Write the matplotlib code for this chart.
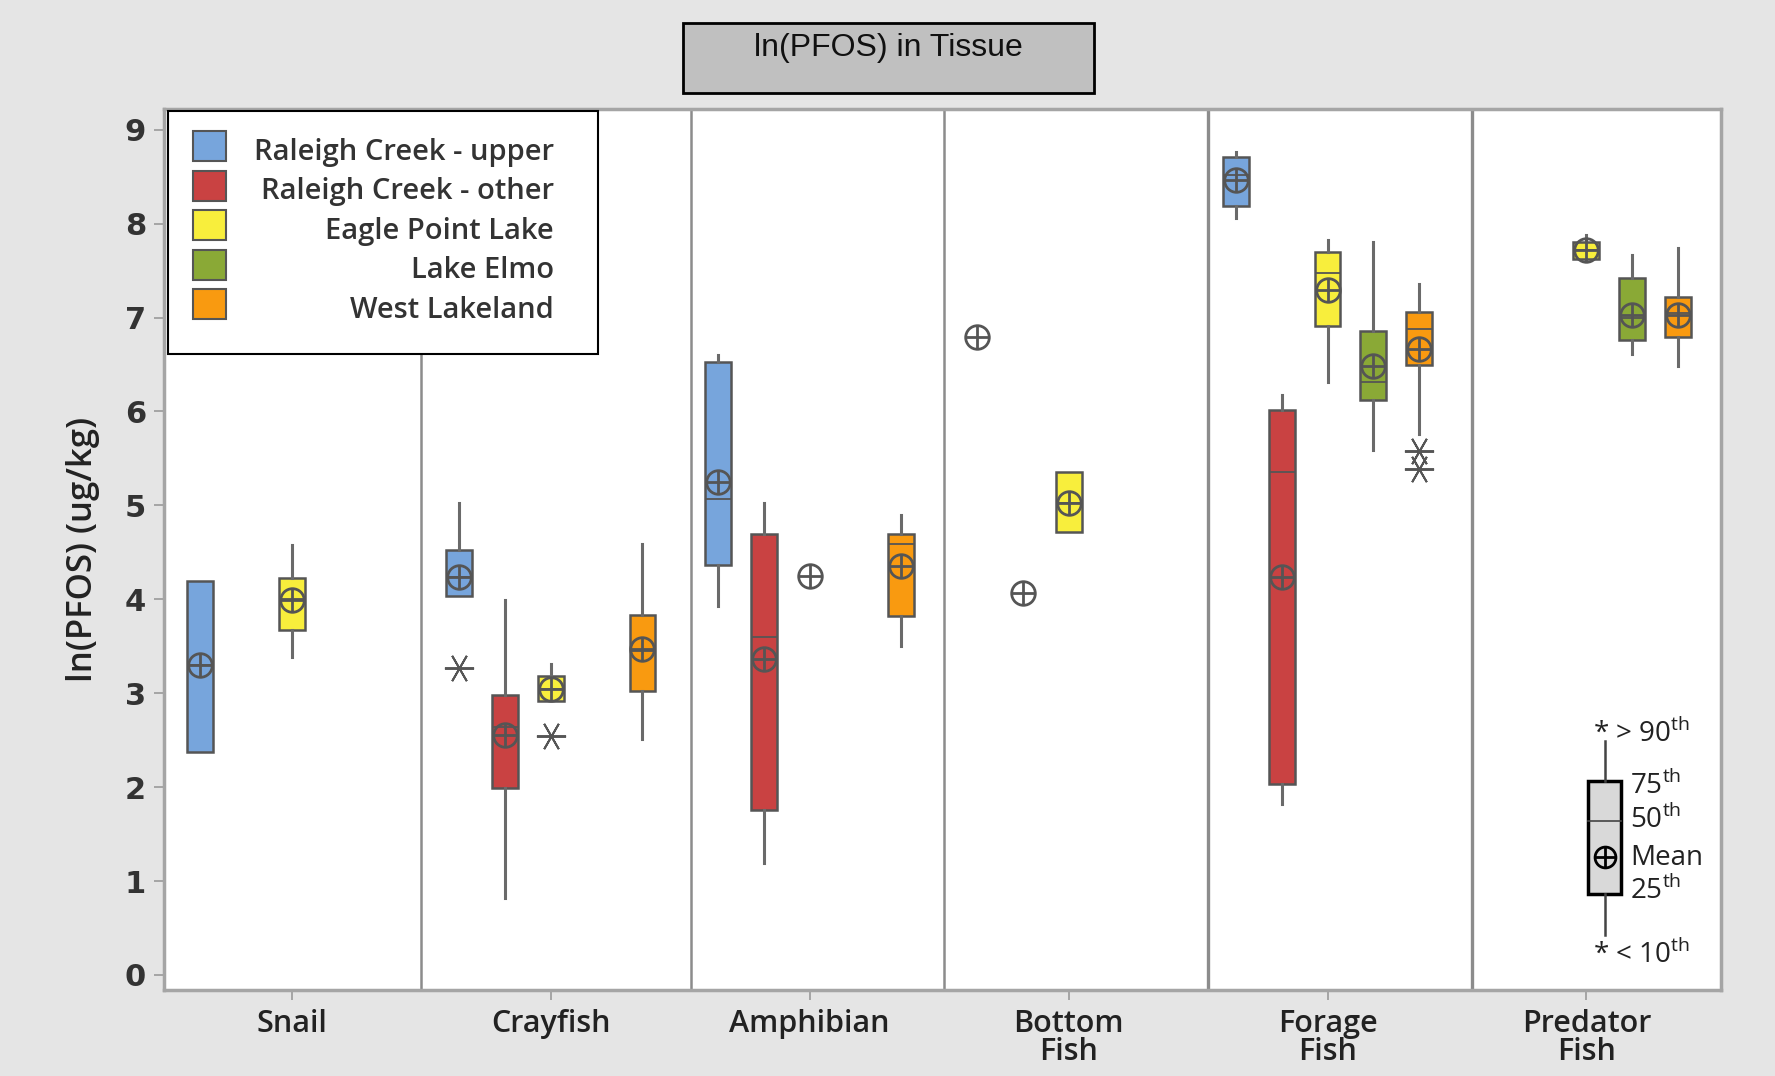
import numpy as np
import matplotlib.pyplot as plt
from matplotlib.patches import Rectangle

plt.rcParams['font.family'] = ['Open Sans', 'DejaVu Sans']
plt.rcParams['mathtext.fontset'] = 'custom'
plt.rcParams['mathtext.rm'] = 'Open Sans'

categories = ['Snail', 'Crayfish', 'Amphibian', 'Bottom\nFish', 'Forage\nFish', 'Predator\nFish']
sites = ['Raleigh Creek - upper', 'Raleigh Creek - other', 'Eagle Point Lake', 'Lake Elmo', 'West Lakeland']
colors = ['#77a5dc', '#c94242', '#f8ee3c', '#8aa936', '#f99a10']

N = None
# rows = sites, columns = categories
whislo = [[2.37, 4.04, 3.93, N, 8.06, N],
          [N, 0.82, 1.19, N, 1.82, N],
          [3.39, 2.92, N, 4.72, 6.31, 7.60],
          [N, N, N, N, 5.59, 6.61],
          [N, 2.51, 3.50, N, 5.76, 6.48]]
q1 = [[2.37, 4.04, 4.36, N, 8.19, N],
      [N, 1.99, 1.76, N, 2.03, N],
      [3.67, 2.92, N, 4.72, 6.91, 7.62],
      [N, N, N, N, 6.12, 6.76],
      [N, 3.02, 3.82, N, 6.49, 6.79]]
med = [[3.30, 4.24, 5.07, N, 8.52, N],
       [N, 2.64, 3.60, N, 5.36, N],
       [4.00, 3.05, N, 5.02, 7.47, 7.72],
       [N, N, N, N, 6.31, 7.00],
       [N, 3.45, 4.59, N, 6.88, 7.05]]
q3 = [[4.19, 4.52, 6.53, N, 8.71, N],
      [N, 2.98, 4.70, N, 6.02, N],
      [4.23, 3.18, N, 5.35, 7.70, 7.80],
      [N, N, N, N, 6.86, 7.42],
      [N, 3.83, 4.69, N, 7.06, 7.22]]
whishi = [[4.19, 5.03, 6.60, N, 8.76, N],
          [N, 3.99, 5.03, N, 6.17, N],
          [4.58, 3.31, N, 5.35, 7.83, 7.88],
          [N, N, N, N, 7.80, 7.67],
          [N, 4.59, 4.90, N, 7.36, 7.74]]
means = [[3.30, 4.24, 5.25, 6.79, 8.46, N],
         [N, 2.56, 3.36, 4.07, 4.24, N],
         [3.99, 3.05, 4.25, 5.02, 7.29, 7.72],
         [N, N, N, N, 6.48, 7.03],
         [N, 3.47, 4.35, N, 6.67, 7.03]]
# (site, category): outlier values
outliers = {(0, 1): [3.27], (2, 1): [2.54], (4, 4): [5.58, 5.39]}

dividers = [0.5, 1.54, 2.52, 3.54, 4.56]
step = 0.177
edge = '#555555'

fig = plt.figure(figsize=(17.75, 10.76), dpi=100, facecolor='#e5e5e5')
ax = fig.add_axes([0.0924, 0.0799, 0.8772, 0.8188])
ax.set_facecolor('white')

for k, d in enumerate(dividers):
    # forage panel is framed a bit heavier
    ax.axvline(d, color='#8c8c8c', lw=2.4 if k >= 3 else 1.8, zorder=1)

for i in range(len(sites)):
    for c in range(len(categories)):
        x = c + (i - 2) * step
        if q1[i][c] is not None:
            st = dict(whislo=whislo[i][c], q1=q1[i][c], med=med[i][c], q3=q3[i][c],
                      whishi=whishi[i][c], fliers=outliers.get((i, c), []))
            ax.bxp([st], positions=[x], widths=0.1, patch_artist=True, showcaps=False,
                   manage_ticks=False,
                   boxprops=dict(facecolor=colors[i], edgecolor=edge, lw=1.8),
                   medianprops=dict(color=edge, lw=1.3),
                   whiskerprops=dict(color='#6a6a6a', lw=2.2),
                   flierprops=dict(marker=(6, 2, 30), ms=21, mec='#555555', mew=1.4),
                   zorder=3)
        if means[i][c] is not None:
            ax.plot(x, means[i][c], marker='o', ms=17, mfc='none', mec=edge, mew=2.0, zorder=4)
            ax.plot(x, means[i][c], marker='+', ms=17, mec=edge, mew=2.0, zorder=4)

ax.set_xlim(-0.494, 5.52)
ax.set_ylim(-0.16, 9.22)
ax.set_yticks(range(10))
ax.set_xticks(range(len(categories)))
ax.set_xticklabels(categories, fontsize=22, fontweight='semibold', linespacing=0.9, color='#222222')
for t in ax.get_yticklabels():
    t.set_fontsize(22)
    t.set_fontweight('bold')
    t.set_family('DejaVu Sans')
    t.set_color('#333333')
ax.tick_params(axis='both', length=7, width=1.2, color='#9a9a9a')
ax.tick_params(axis='x', pad=7)
ax.tick_params(axis='y', pad=6)
for s in ax.spines.values():
    s.set_color('#a5a5a5')
    s.set_linewidth(2.5)
ax.set_ylabel('ln(PFOS) (ug/kg)', fontsize=25, fontweight='semibold', color='#222222')
ax.yaxis.set_label_coords(-0.041, 0.5)

# legend box
ax.add_patch(Rectangle((0.0026, 0.722), 0.2764, 0.276, transform=ax.transAxes,
                       facecolor='white', edgecolor='black', lw=1.5, zorder=6))
for i, name in enumerate(sites):
    yc = 0.9546 - i * 0.0448
    ax.add_patch(Rectangle((0.0186, yc - 0.014), 0.0212, 0.034, transform=ax.transAxes,
                           facecolor=colors[i], edgecolor='#555555', lw=1.5, zorder=7))
    ax.text(0.2505, yc - 0.004, name, transform=ax.transAxes, ha='right', va='center',
            fontsize=21, fontweight='semibold', color='#333333', zorder=7)

# key for box symbols
kx = 0.9252
ax.add_patch(Rectangle((0.9146, 0.109), 0.0212, 0.1282, transform=ax.transAxes,
                       facecolor='#d9d9d9', edgecolor='black', lw=2.5, zorder=6))
ax.plot([kx, kx], [0.2372, 0.2826], transform=ax.transAxes, color='#444444', lw=1.8, zorder=6)
ax.plot([kx, kx], [0.0624, 0.109], transform=ax.transAxes, color='#444444', lw=1.8, zorder=6)
ax.plot([0.9146, 0.9358], [0.192, 0.192], transform=ax.transAxes, color='#444444', lw=1.2, zorder=7)
ax.plot(kx, 0.151, transform=ax.transAxes, marker='o', ms=15, mfc='none', mec='black', mew=2, zorder=7)
ax.plot(kx, 0.151, transform=ax.transAxes, marker='+', ms=15, mec='black', mew=2, zorder=7)
kfs = 20
ax.text(0.918, 0.290, r'* > 90$^{\mathrm{th}}$', transform=ax.transAxes, ha='left', va='center', fontsize=kfs, color='#222222')
ax.text(0.9415, 0.231, r'75$^{\mathrm{th}}$', transform=ax.transAxes, ha='left', va='center', fontsize=kfs, color='#222222')
ax.text(0.9415, 0.193, r'50$^{\mathrm{th}}$', transform=ax.transAxes, ha='left', va='center', fontsize=kfs, color='#222222')
ax.text(0.9415, 0.150, 'Mean', transform=ax.transAxes, ha='left', va='center', fontsize=kfs, color='#222222')
ax.text(0.9415, 0.112, r'25$^{\mathrm{th}}$', transform=ax.transAxes, ha='left', va='center', fontsize=kfs, color='#222222')
ax.text(0.918, 0.040, r'* < 10$^{\mathrm{th}}$', transform=ax.transAxes, ha='left', va='center', fontsize=kfs, color='#222222')

# title box
fig.patches.append(Rectangle((0.3848, 0.9136), 0.2315, 0.0651, transform=fig.transFigure,
                             facecolor='#c0c0c0', edgecolor='black', lw=2))
fig.text(0.5003, 0.955, 'ln(PFOS) in Tissue', ha='center', va='center', fontsize=23,
         family='Liberation Sans', color='#111111')

fig.savefig('out.png', dpi=100, facecolor=fig.get_facecolor())
